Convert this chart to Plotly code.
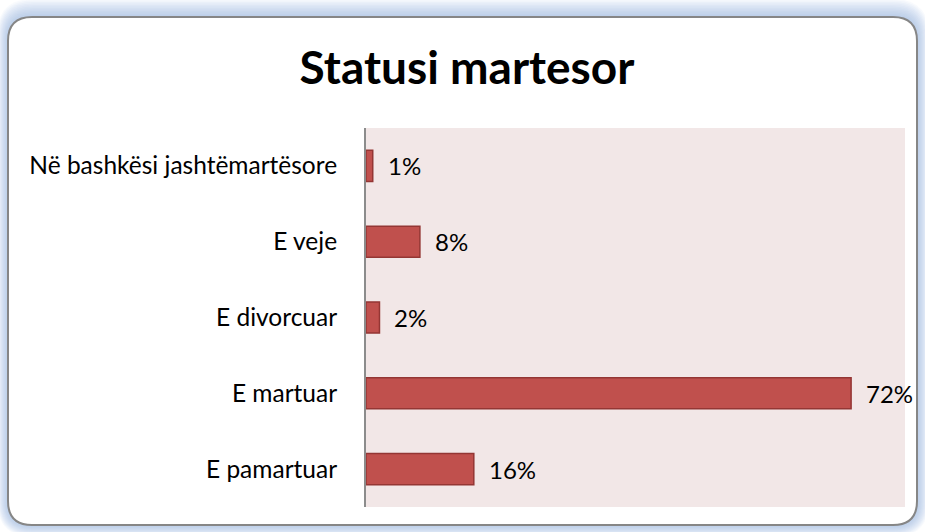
import plotly.graph_objects as go

categories = ["E pamartuar", "E martuar", "E divorcuar", "E veje", "Në bashkësi jashtëmartësore"]
values = [16, 72, 2, 8, 1]
value_labels = ["16%", "72%", "2%", "8%", "1%"]
title_text = "Statusi martesor"

W, H = 925, 532
L, R, T, B = 366, 20, 128, 25
PW, PH = W - L - R, H - T - B


def px(x):
    return (x - L) / PW


def py(y):
    return (H - B - y) / PH


def rrect(x0, y0, x1, y1, r):
    return (f"M {px(x0 + r)},{py(y0)} L {px(x1 - r)},{py(y0)} "
            f"Q {px(x1)},{py(y0)} {px(x1)},{py(y0 + r)} "
            f"L {px(x1)},{py(y1 - r)} Q {px(x1)},{py(y1)} {px(x1 - r)},{py(y1)} "
            f"L {px(x0 + r)},{py(y1)} Q {px(x0)},{py(y1)} {px(x0)},{py(y1 - r)} "
            f"L {px(x0)},{py(y0 + r)} Q {px(x0)},{py(y0)} {px(x0 + r)},{py(y0)} Z")


FONT = "Lato, 'Open Sans', sans-serif"

fig = go.Figure()
fig.add_trace(go.Bar(
    y=categories, x=values, orientation="h",
    marker=dict(color="#C0504D", line=dict(color="#943634", width=1.5)),
    hoverinfo="skip",
))

shapes = []
# glow / shadow
for k in range(12, 0, -1):
    shapes.append(dict(type="path", xref="paper", yref="paper", layer="below",
                       path=rrect(8 - k * 0.9, 17 - k * 1.5, 917 + k, 525 + k, 24 + k),
                       fillcolor="rgba(130,165,210,0.055)", line=dict(width=0)))
# frame
shapes.append(dict(type="path", xref="paper", yref="paper", layer="below",
                   path=rrect(8, 17, 917, 525, 24),
                   fillcolor="white", line=dict(color="#868686", width=2)))
# plot area background
shapes.append(dict(type="rect", xref="paper", yref="paper", layer="below",
                   x0=0, x1=1, y0=0, y1=1, fillcolor="#F2E7E7", line=dict(width=0)))

annotations = []
for c, v, t in zip(categories, values, value_labels):
    annotations.append(dict(x=v, y=c, xref="x", yref="y", text=t, showarrow=False,
                            xanchor="left", yanchor="middle", xshift=13,
                            font=dict(family=FONT, size=24, color="black")))

fig.update_layout(
    width=W, height=H,
    margin=dict(l=L, r=R, t=T, b=B, pad=0),
    paper_bgcolor="white",
    plot_bgcolor="rgba(0,0,0,0)",
    showlegend=False,
    bargap=0.59,
    shapes=shapes,
    annotations=annotations,
    title=dict(text=f"<b>{title_text}</b>", x=467 / W, xanchor="center",
               y=1 - 68 / H, yanchor="middle", yref="container",
               font=dict(family=FONT, size=46, color="black")),
    xaxis=dict(range=[0, 80], visible=False, showgrid=False, zeroline=False, fixedrange=True),
    yaxis=dict(categoryorder="array", categoryarray=categories,
               showline=True, linecolor="#8C8C8C", linewidth=2,
               showgrid=False, zeroline=False, ticks="", ticklabelstandoff=22,
               tickfont=dict(family=FONT, size=24.5, color="black")),
)

fig.write_html("out.html", config={"displayModeBar": False},
               post_script="document.body.style.margin='0px';document.body.style.overflow='hidden';")
